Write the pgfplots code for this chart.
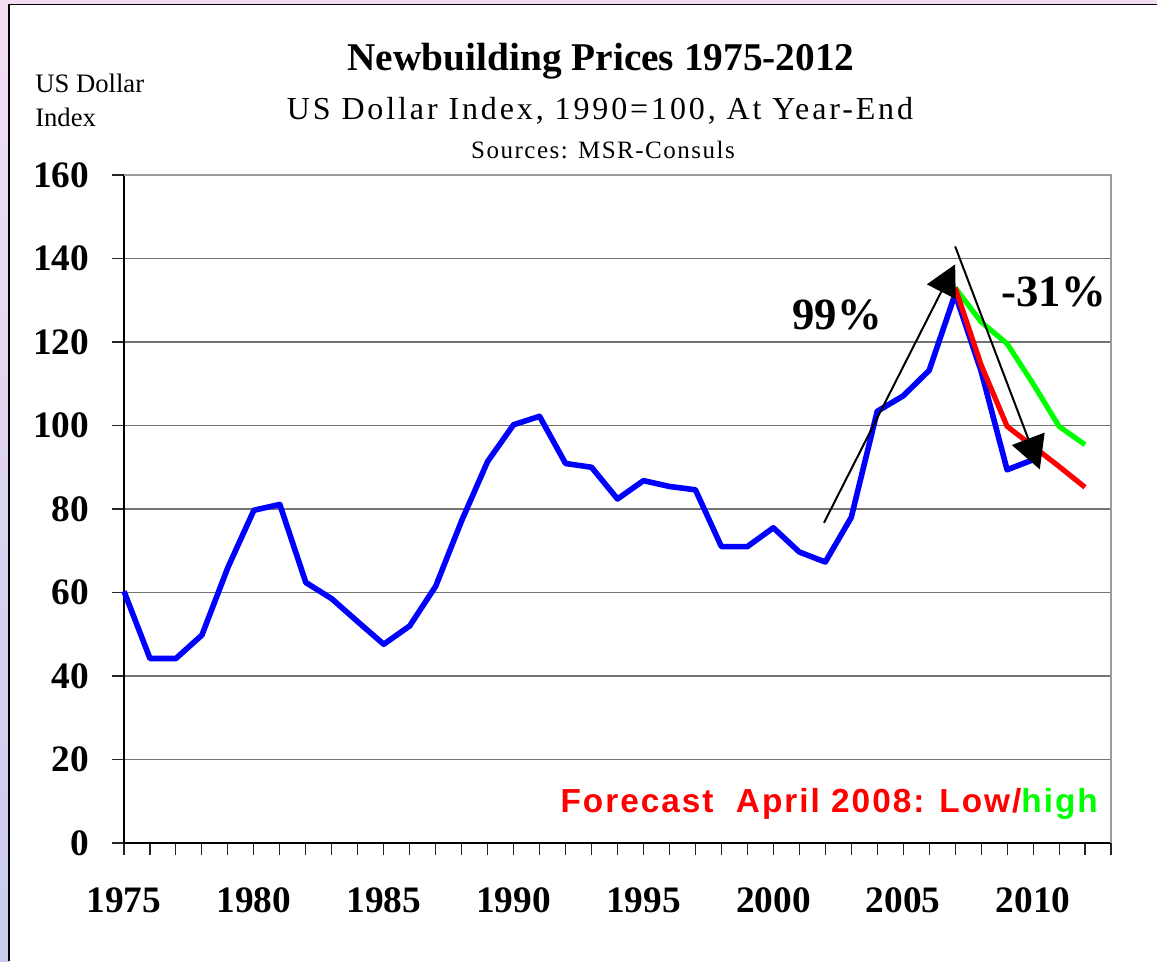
\documentclass[border=0pt]{standalone}
\usepackage{pgfplots}
\usepackage{pgfplotstable}
\pgfplotsset{compat=1.18}
\usetikzlibrary{arrows.meta}
\usepackage{fontspec}
\setmainfont{Liberation Serif}
\newfontfamily\arialfont{Liberation Sans}
\definecolor{xblue}{RGB}{0,0,255}
\definecolor{xred}{RGB}{255,0,0}
\definecolor{xgreen}{RGB}{0,255,0}
\definecolor{gridgray}{RGB}{115,115,115}
\definecolor{framegray}{RGB}{155,155,155}
\definecolor{pinkband}{RGB}{242,222,242}
\definecolor{lavband}{RGB}{200,202,238}

\pgfplotstableread{
year val
1975 60.3
1976 44.2
1977 44.2
1978 49.8
1979 66.0
1980 79.7
1981 81.1
1982 62.4
1983 58.5
1984 53.0
1985 47.6
1986 52.0
1987 61.5
1988 77.2
1989 91.4
1990 100.2
1991 102.2
1992 90.9
1993 90.0
1994 82.4
1995 86.8
1996 85.4
1997 84.6
1998 71.0
1999 71.0
2000 75.5
2001 69.7
2002 67.3
2003 78.0
2004 103.4
2005 107.1
2006 113.2
2007 131.5
2008 113.0
2009 89.4
2010 91.8
}\bluedata

\pgfplotstableread{
year val
2007 133.0
2008 114.5
2009 99.8
2010 95.0
2011 90.2
2012 85.2
}\reddata

\pgfplotstableread{
year val
2007 133.0
2008 124.8
2009 119.6
2010 110.0
2011 99.8
2012 95.4
}\greendata

\begin{document}
\begin{tikzpicture}[x=0.75pt,y=-0.75pt]
\path[use as bounding box] (0,0) rectangle (1157,961);
\fill[white] (0,0) rectangle (1157,961);
\fill[pinkband] (0,0) rectangle (1157,4.5);
\shade[top color=pinkband, bottom color=lavband] (0,0) rectangle (9,961);
\draw[black, line width=1.1pt] (9,961) -- (9,4.5) -- (1157,4.5);

\begin{axis}[
  at={(93pt,-632.25pt)}, anchor=south west,
  scale only axis, width=740.25pt, height=501pt,
  xmin=1975, xmax=2013, ymin=0, ymax=160,
  axis lines*=left,
  xtick pos=bottom, ytick pos=left,
  axis line style={black, line width=1.5pt, -},
  tick align=outside,
  xtick={1975,1980,1985,1990,1995,2000,2005,2010},
  xticklabels={1975,1980,1985,1990,1995,2000,2005,2010},
  minor xtick={1975,1976,...,2013},
  ytick={0,20,40,60,80,100,120,140,160},
  yticklabels={0,20,40,60,80,100,120,140,160},
  major tick length=9pt, minor tick length=9pt,
  every tick/.style={black!85, line width=0.8pt},
  ymajorgrids, grid style={gridgray, line width=1.1pt},
  xticklabel style={font=\fontsize{28}{30}\selectfont\bfseries, anchor=north, inner sep=0pt, yshift=-24pt},
  yticklabel style={font=\fontsize{28}{30}\selectfont\bfseries, anchor=east, inner sep=0pt, xshift=-17pt},
  clip=false,
]
\draw[framegray, line width=2.2pt] (rel axis cs:0,1) -- (rel axis cs:1,1) -- (rel axis cs:1,0);
\addplot[xblue, line width=4.2pt, line join=round] table[x=year,y=val]{\bluedata};
\addplot[xgreen, line width=3.9pt, line join=round] table[x=year,y=val]{\greendata};
\addplot[xred, line width=3.9pt, line join=round] table[x=year,y=val]{\reddata};
\draw[black, line width=1.5pt, -{Triangle[length=23pt,width=24pt]}] (axis cs:2001.95,76.7) -- (axis cs:2007.0,138.6);
\draw[black, line width=1.5pt, -{Triangle[length=24.5pt,width=26pt]}] (axis cs:2007.0,142.9) -- (axis cs:2010.26,89.5);
\node[font=\fontsize{33.5}{36}\selectfont\bfseries, inner sep=0pt] at (axis cs:2002.46,126.5) {99\%};
\node[font=\fontsize{33.5}{36}\selectfont\bfseries, inner sep=0pt] at (axis cs:2010.8,132) {-31\%};
\end{axis}

\node[anchor=base west, inner sep=0pt, font=\fontsize{20}{22}\selectfont] at (35,92) {US Dollar};
\node[anchor=base west, inner sep=0pt, font=\fontsize{20}{22}\selectfont] at (35,126) {Index};
\node[anchor=base, inner sep=0pt, font=\fontsize{29.5}{32}\selectfont\bfseries] at (601,70) {Newbuilding Prices 1975-2012};
\node[anchor=base, inner sep=0pt, font=\fontsize{24}{26}\selectfont\addfontfeature{LetterSpace=9}] at (600,119) {US Dollar Index, 1990=100, At Year-End};
\node[anchor=base, inner sep=0pt, font=\fontsize{18.75}{20}\selectfont\addfontfeature{LetterSpace=6}] at (603,158) {Sources: MSR-Consuls};
\node[anchor=base east, inner sep=0pt, font=\arialfont\bfseries\fontsize{25}{27}\selectfont\addfontfeature{LetterSpace=6}] at (1098,812) {\textcolor{xred}{Forecast\ \ April 2008: Low/}\textcolor{xgreen}{high}};
\end{tikzpicture}
\end{document}
